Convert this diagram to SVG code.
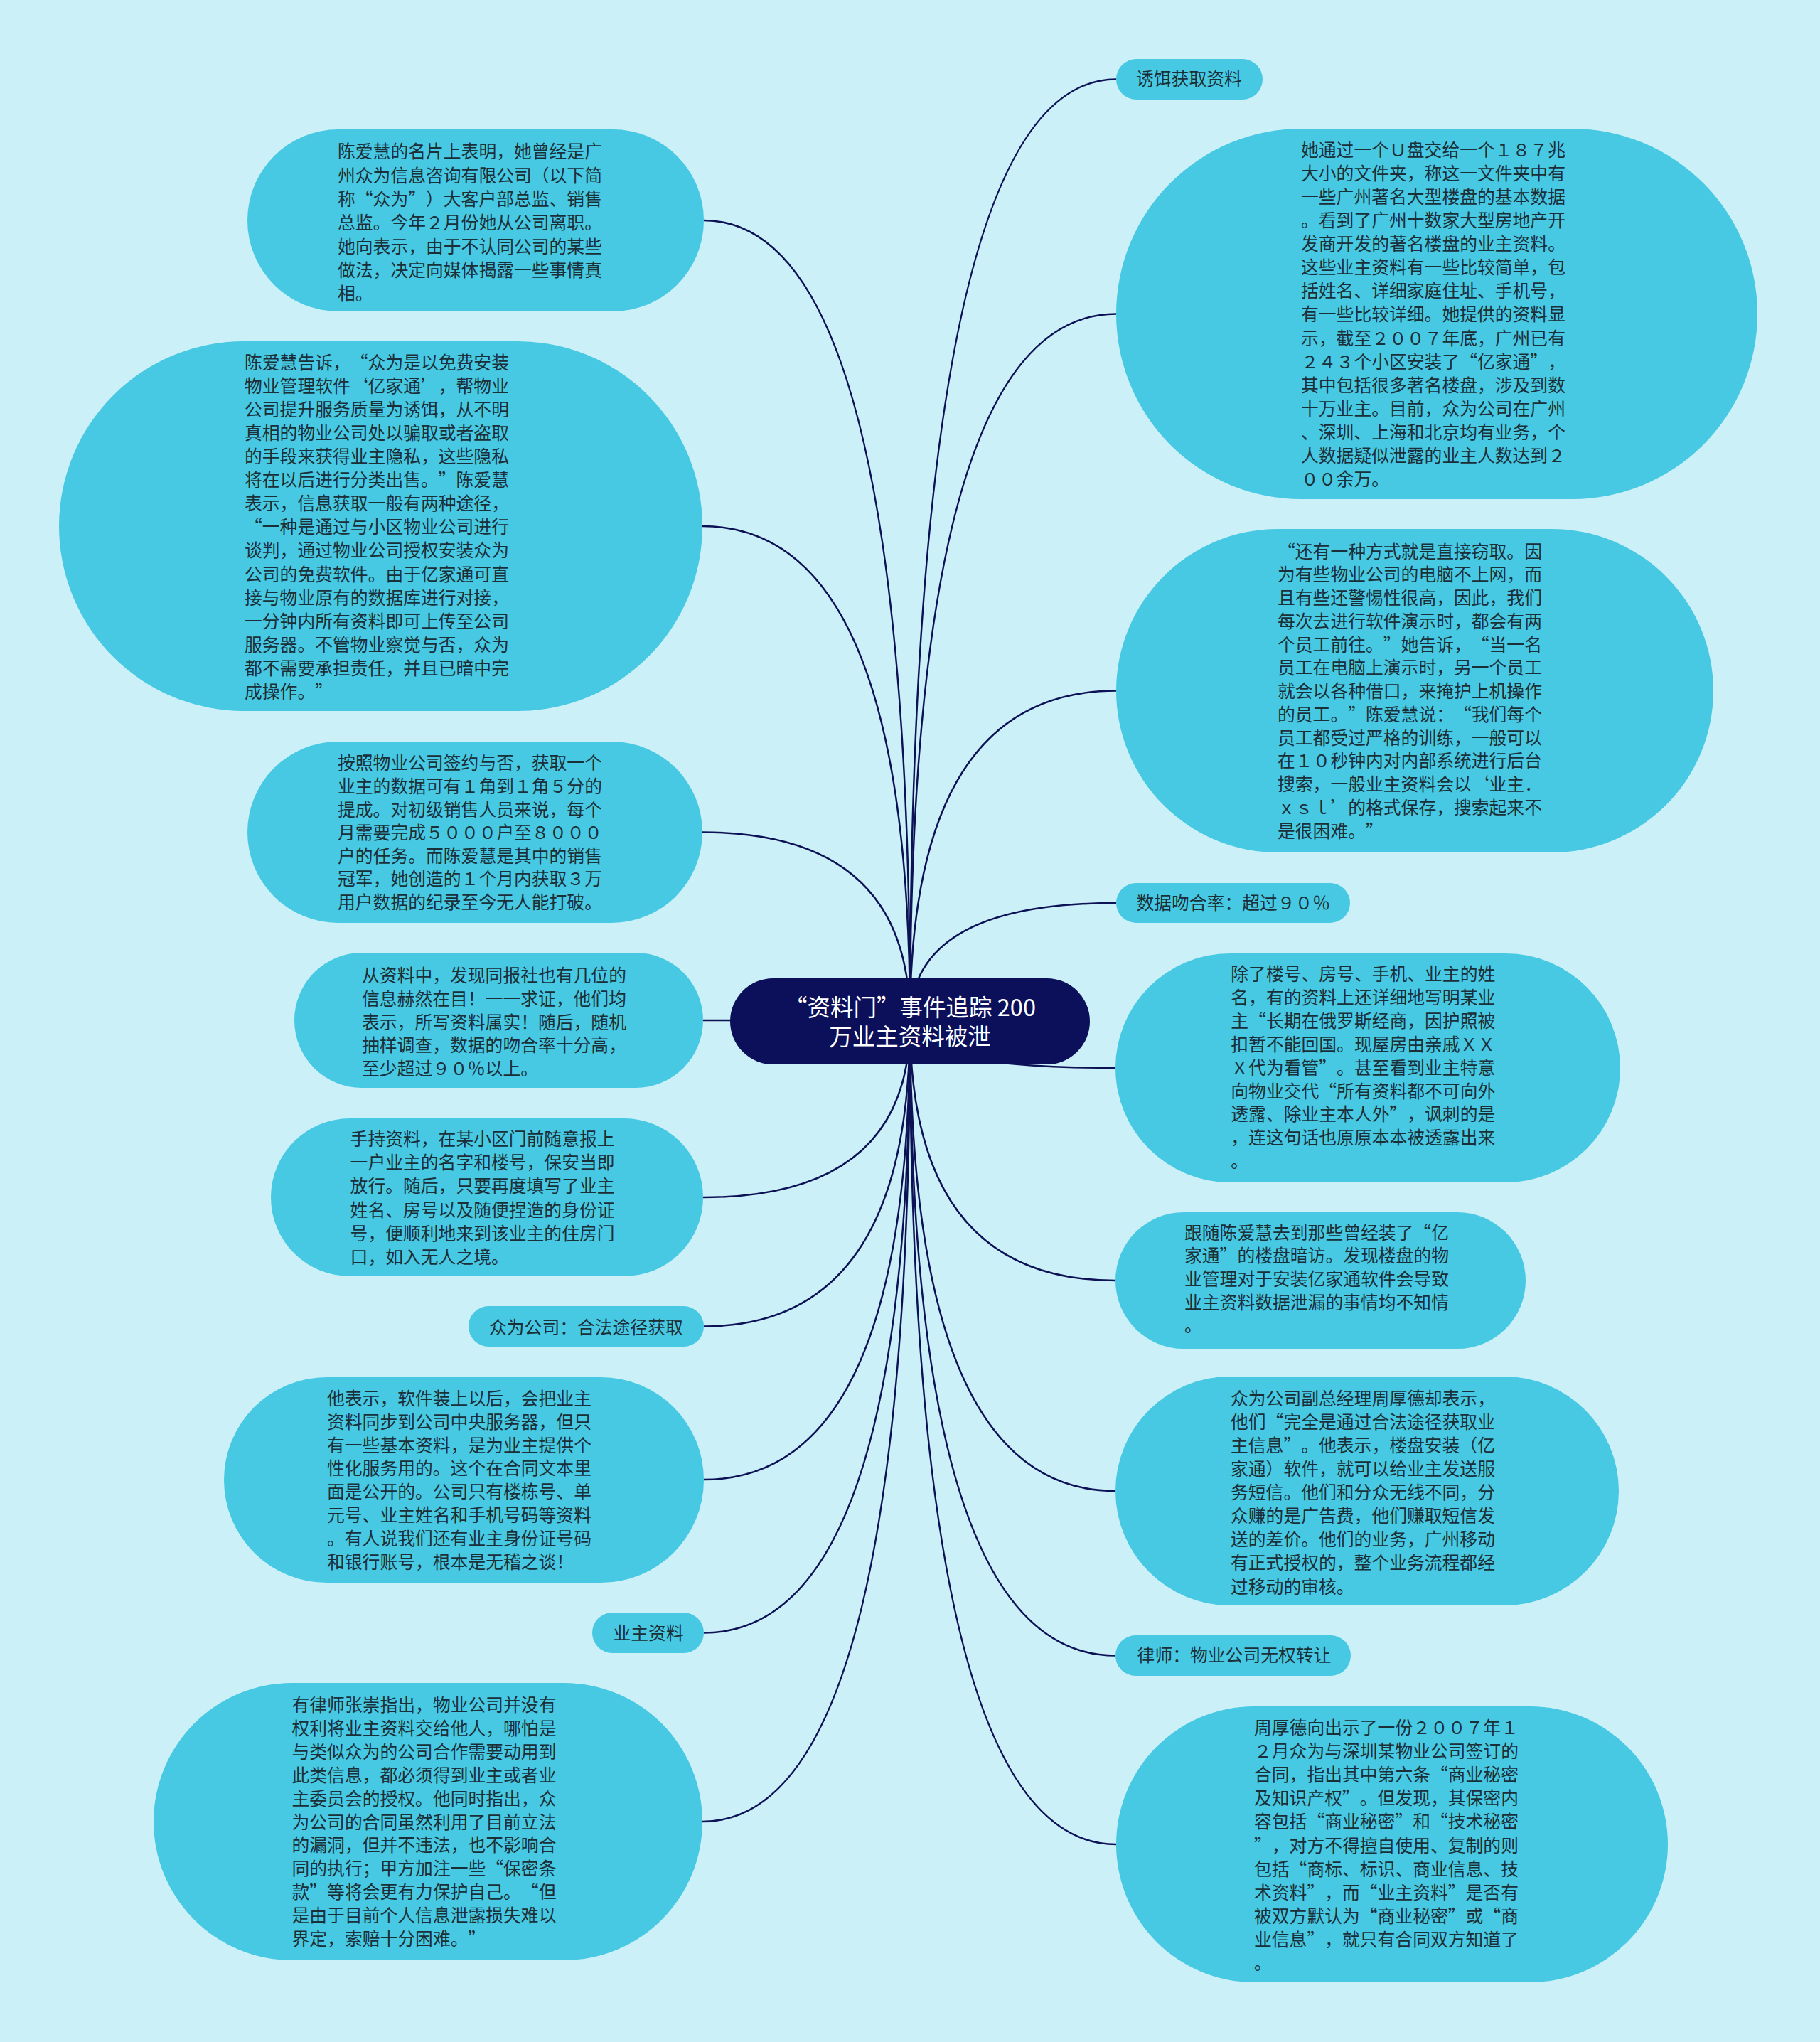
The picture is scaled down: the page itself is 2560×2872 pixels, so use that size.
<svg xmlns="http://www.w3.org/2000/svg" width="2560" height="2872" viewBox="0 0 2560 2872">
<style>
.bg{fill:#ccf0f7}
.nd{fill:#47c9e3}
.root{fill:#0c0f5a}
.t{font-family:"Noto Sans CJK SC","Noto Sans",sans-serif;font-size:24.8px;fill:#1b2f38;text-spacing-trim:space-all}
.rt{font-family:"Noto Sans CJK SC","Noto Sans",sans-serif;font-size:32.5px;fill:#ffffff;text-anchor:middle;text-spacing-trim:space-all}
.ln{fill:none;stroke:#0d1256;stroke-width:2.5}
</style>
<rect class="bg" x="0" y="0" width="2560" height="2872"/>
<g id="connectors">
<path class="ln" d="M1280,1437 Q1280,310 990,310"/>
<path class="ln" d="M1280,1437 Q1280,740 988,740"/>
<path class="ln" d="M1280,1437 Q1280,1170.5 988,1170.5"/>
<path class="ln" d="M1280,1437 Q1280,1435 989,1435"/>
<path class="ln" d="M1280,1437 Q1280,1684 989,1684"/>
<path class="ln" d="M1280,1437 Q1280,1865.5 990,1865.5"/>
<path class="ln" d="M1280,1437 Q1280,2081 990,2081"/>
<path class="ln" d="M1280,1437 Q1280,2296.5 990,2296.5"/>
<path class="ln" d="M1280,1437 Q1280,2562 988,2562"/>
<path class="ln" d="M1280,1437 Q1280,111.5 1570,111.5"/>
<path class="ln" d="M1280,1437 Q1280,441.5 1570,441.5"/>
<path class="ln" d="M1280,1437 Q1280,971.5 1570,971.5"/>
<path class="ln" d="M1280,1437 Q1280,1270 1570,1270"/>
<path class="ln" d="M1280,1437 Q1280,1502 1569,1502"/>
<path class="ln" d="M1280,1437 Q1280,1801 1569,1801"/>
<path class="ln" d="M1280,1437 Q1280,2097 1569,2097"/>
<path class="ln" d="M1280,1437 Q1280,2328.5 1569,2328.5"/>
<path class="ln" d="M1280,1437 Q1280,2594 1570,2594"/>
</g>
<g id="root">
<rect class="root" x="1027" y="1376" width="506" height="121" rx="60.5"/>
<text class="rt" x="1280" y="1428.5">“资料门”事件追踪 200</text>
<text class="rt" x="1280" y="1470">万业主资料被泄</text>
</g>
<g id="n1">
<rect class="nd" x="348" y="182" width="642" height="256" rx="128"/>
<text class="t" y="222.3"><tspan x="475">陈爱慧的名片上表明，她曾经是广</tspan><tspan x="475" dy="33.3">州众为信息咨询有限公司（以下简</tspan><tspan x="475" dy="33.3">称“众为”）大客户部总监、销售</tspan><tspan x="475" dy="33.3">总监。今年２月份她从公司离职。</tspan><tspan x="475" dy="33.3">她向表示，由于不认同公司的某些</tspan><tspan x="475" dy="33.3">做法，决定向媒体揭露一些事情真</tspan><tspan x="475" dy="33.3">相。</tspan></text>
</g>
<g id="n2">
<rect class="nd" x="83" y="480" width="905" height="520" rx="260"/>
<text class="t" y="518.6"><tspan x="344">陈爱慧告诉，“众为是以免费安装</tspan><tspan x="344" dy="33.1">物业管理软件‘亿家通’，帮物业</tspan><tspan x="344" dy="33.1">公司提升服务质量为诱饵，从不明</tspan><tspan x="344" dy="33.1">真相的物业公司处以骗取或者盗取</tspan><tspan x="344" dy="33.1">的手段来获得业主隐私，这些隐私</tspan><tspan x="344" dy="33.1">将在以后进行分类出售。”陈爱慧</tspan><tspan x="344" dy="33.1">表示，信息获取一般有两种途径，</tspan><tspan x="344" dy="33.1">“一种是通过与小区物业公司进行</tspan><tspan x="344" dy="33.1">谈判，通过物业公司授权安装众为</tspan><tspan x="344" dy="33.1">公司的免费软件。由于亿家通可直</tspan><tspan x="344" dy="33.1">接与物业原有的数据库进行对接，</tspan><tspan x="344" dy="33.1">一分钟内所有资料即可上传至公司</tspan><tspan x="344" dy="33.1">服务器。不管物业察觉与否，众为</tspan><tspan x="344" dy="33.1">都不需要承担责任，并且已暗中完</tspan><tspan x="344" dy="33.1">成操作。”</tspan></text>
</g>
<g id="n3">
<rect class="nd" x="348" y="1043" width="640" height="255" rx="127.5"/>
<text class="t" y="1082.3"><tspan x="475">按照物业公司签约与否，获取一个</tspan><tspan x="475" dy="32.6">业主的数据可有１角到１角５分的</tspan><tspan x="475" dy="32.6">提成。对初级销售人员来说，每个</tspan><tspan x="475" dy="32.6">月需要完成５０００户至８０００</tspan><tspan x="475" dy="32.6">户的任务。而陈爱慧是其中的销售</tspan><tspan x="475" dy="32.6">冠军，她创造的１个月内获取３万</tspan><tspan x="475" dy="32.6">用户数据的纪录至今无人能打破。</tspan></text>
</g>
<g id="n4">
<rect class="nd" x="414" y="1340" width="575" height="190" rx="95"/>
<text class="t" y="1380.7"><tspan x="509">从资料中，发现同报社也有几位的</tspan><tspan x="509" dy="32.9">信息赫然在目！一一求证，他们均</tspan><tspan x="509" dy="32.9">表示，所写资料属实！随后，随机</tspan><tspan x="509" dy="32.9">抽样调查，数据的吻合率十分高，</tspan><tspan x="509" dy="32.9">至少超过９０％以上。</tspan></text>
</g>
<g id="n5">
<rect class="nd" x="381" y="1573" width="608" height="222" rx="111"/>
<text class="t" y="1610.7"><tspan x="492.6">手持资料，在某小区门前随意报上</tspan><tspan x="492.6" dy="33.3">一户业主的名字和楼号，保安当即</tspan><tspan x="492.6" dy="33.3">放行。随后，只要再度填写了业主</tspan><tspan x="492.6" dy="33.3">姓名、房号以及随便捏造的身份证</tspan><tspan x="492.6" dy="33.3">号，便顺利地来到该业主的住房门</tspan><tspan x="492.6" dy="33.3">口，如入无人之境。</tspan></text>
</g>
<g id="n6">
<rect class="nd" x="659" y="1837" width="331" height="57" rx="28.5"/>
<text class="t" x="688" y="1875.7">众为公司：合法途径获取</text>
</g>
<g id="n7">
<rect class="nd" x="315" y="1937" width="675" height="289" rx="144.5"/>
<text class="t" y="1975.7"><tspan x="460">他表示，软件装上以后，会把业主</tspan><tspan x="460" dy="32.9">资料同步到公司中央服务器，但只</tspan><tspan x="460" dy="32.9">有一些基本资料，是为业主提供个</tspan><tspan x="460" dy="32.9">性化服务用的。这个在合同文本里</tspan><tspan x="460" dy="32.9">面是公开的。公司只有楼栋号、单</tspan><tspan x="460" dy="32.9">元号、业主姓名和手机号码等资料</tspan><tspan x="460" dy="32.9">。有人说我们还有业主身份证号码</tspan><tspan x="460" dy="32.9">和银行账号，根本是无稽之谈！</tspan></text>
</g>
<g id="n8">
<rect class="nd" x="833" y="2268" width="157" height="57" rx="28.5"/>
<text class="t" x="862.5" y="2305.7">业主资料</text>
</g>
<g id="n9">
<rect class="nd" x="216" y="2367" width="772" height="390" rx="195"/>
<text class="t" y="2407.3"><tspan x="410.5">有律师张崇指出，物业公司并没有</tspan><tspan x="410.5" dy="32.84">权利将业主资料交给他人，哪怕是</tspan><tspan x="410.5" dy="32.84">与类似众为的公司合作需要动用到</tspan><tspan x="410.5" dy="32.84">此类信息，都必须得到业主或者业</tspan><tspan x="410.5" dy="32.84">主委员会的授权。他同时指出，众</tspan><tspan x="410.5" dy="32.84">为公司的合同虽然利用了目前立法</tspan><tspan x="410.5" dy="32.84">的漏洞，但并不违法，也不影响合</tspan><tspan x="410.5" dy="32.84">同的执行；甲方加注一些“保密条</tspan><tspan x="410.5" dy="32.84">款”等将会更有力保护自己。“但</tspan><tspan x="410.5" dy="32.84">是由于目前个人信息泄露损失难以</tspan><tspan x="410.5" dy="32.84">界定，索赔十分困难。”</tspan></text>
</g>
<g id="r0">
<rect class="nd" x="1570" y="83" width="206" height="57" rx="28.5"/>
<text class="t" x="1598" y="119.8">诱饵获取资料</text>
</g>
<g id="r1">
<rect class="nd" x="1570" y="181" width="902" height="521" rx="260.5"/>
<text class="t" y="219.8"><tspan x="1830">她通过一个Ｕ盘交给一个１８７兆</tspan><tspan x="1830" dy="33.09">大小的文件夹，称这一文件夹中有</tspan><tspan x="1830" dy="33.09">一些广州著名大型楼盘的基本数据</tspan><tspan x="1830" dy="33.09">。看到了广州十数家大型房地产开</tspan><tspan x="1830" dy="33.09">发商开发的著名楼盘的业主资料。</tspan><tspan x="1830" dy="33.09">这些业主资料有一些比较简单，包</tspan><tspan x="1830" dy="33.09">括姓名、详细家庭住址、手机号，</tspan><tspan x="1830" dy="33.09">有一些比较详细。她提供的资料显</tspan><tspan x="1830" dy="33.09">示，截至２００７年底，广州已有</tspan><tspan x="1830" dy="33.09">２４３个小区安装了“亿家通”，</tspan><tspan x="1830" dy="33.09">其中包括很多著名楼盘，涉及到数</tspan><tspan x="1830" dy="33.09">十万业主。目前，众为公司在广州</tspan><tspan x="1830" dy="33.09">、深圳、上海和北京均有业务，个</tspan><tspan x="1830" dy="33.09">人数据疑似泄露的业主人数达到２</tspan><tspan x="1830" dy="33.09">００余万。</tspan></text>
</g>
<g id="r2">
<rect class="nd" x="1570" y="744" width="840" height="455" rx="227.5"/>
<text class="t" y="784.7"><tspan x="1797">“还有一种方式就是直接窃取。因</tspan><tspan x="1797" dy="32.74">为有些物业公司的电脑不上网，而</tspan><tspan x="1797" dy="32.74">且有些还警惕性很高，因此，我们</tspan><tspan x="1797" dy="32.74">每次去进行软件演示时，都会有两</tspan><tspan x="1797" dy="32.74">个员工前往。”她告诉，“当一名</tspan><tspan x="1797" dy="32.74">员工在电脑上演示时，另一个员工</tspan><tspan x="1797" dy="32.74">就会以各种借口，来掩护上机操作</tspan><tspan x="1797" dy="32.74">的员工。”陈爱慧说：“我们每个</tspan><tspan x="1797" dy="32.74">员工都受过严格的训练，一般可以</tspan><tspan x="1797" dy="32.74">在１０秒钟内对内部系统进行后台</tspan><tspan x="1797" dy="32.74">搜索，一般业主资料会以‘业主．</tspan><tspan x="1797" dy="32.74">ｘｓｌ’的格式保存，搜索起来不</tspan><tspan x="1797" dy="32.74">是很困难。”</tspan></text>
</g>
<g id="r3">
<rect class="nd" x="1570" y="1242" width="329" height="56" rx="28"/>
<text class="t" x="1598.4" y="1279">数据吻合率：超过９０％</text>
</g>
<g id="r4">
<rect class="nd" x="1569" y="1341" width="710" height="322" rx="161"/>
<text class="t" y="1379"><tspan x="1731.3">除了楼号、房号、手机、业主的姓</tspan><tspan x="1731.3" dy="32.9">名，有的资料上还详细地写明某业</tspan><tspan x="1731.3" dy="32.9">主“长期在俄罗斯经商，因护照被</tspan><tspan x="1731.3" dy="32.9">扣暂不能回国。现屋房由亲戚ＸＸ</tspan><tspan x="1731.3" dy="32.9">Ｘ代为看管”。甚至看到业主特意</tspan><tspan x="1731.3" dy="32.9">向物业交代“所有资料都不可向外</tspan><tspan x="1731.3" dy="32.9">透露、除业主本人外”，讽刺的是</tspan><tspan x="1731.3" dy="32.9">，连这句话也原原本本被透露出来</tspan><tspan x="1731.3" dy="32.9">。</tspan></text>
</g>
<g id="r5">
<rect class="nd" x="1569" y="1705" width="577" height="192" rx="96"/>
<text class="t" y="1742.6"><tspan x="1666">跟随陈爱慧去到那些曾经装了“亿</tspan><tspan x="1666" dy="32.7">家通”的楼盘暗访。发现楼盘的物</tspan><tspan x="1666" dy="32.7">业管理对于安装亿家通软件会导致</tspan><tspan x="1666" dy="32.7">业主资料数据泄漏的事情均不知情</tspan><tspan x="1666" dy="32.7">。</tspan></text>
</g>
<g id="r6">
<rect class="nd" x="1569" y="1936" width="708" height="322" rx="161"/>
<text class="t" y="1975.7"><tspan x="1731">众为公司副总经理周厚德却表示，</tspan><tspan x="1731" dy="33.1">他们“完全是通过合法途径获取业</tspan><tspan x="1731" dy="33.1">主信息”。他表示，楼盘安装（亿</tspan><tspan x="1731" dy="33.1">家通）软件，就可以给业主发送服</tspan><tspan x="1731" dy="33.1">务短信。他们和分众无线不同，分</tspan><tspan x="1731" dy="33.1">众赚的是广告费，他们赚取短信发</tspan><tspan x="1731" dy="33.1">送的差价。他们的业务，广州移动</tspan><tspan x="1731" dy="33.1">有正式授权的，整个业务流程都经</tspan><tspan x="1731" dy="33.1">过移动的审核。</tspan></text>
</g>
<g id="r7">
<rect class="nd" x="1569" y="2300" width="331" height="57" rx="28.5"/>
<text class="t" x="1599.6" y="2337.3">律师：物业公司无权转让</text>
</g>
<g id="r8">
<rect class="nd" x="1570" y="2400" width="776" height="388" rx="194"/>
<text class="t" y="2439"><tspan x="1764">周厚德向出示了一份２００７年１</tspan><tspan x="1764" dy="33.1">２月众为与深圳某物业公司签订的</tspan><tspan x="1764" dy="33.1">合同，指出其中第六条“商业秘密</tspan><tspan x="1764" dy="33.1">及知识产权”。但发现，其保密内</tspan><tspan x="1764" dy="33.1">容包括“商业秘密”和“技术秘密</tspan><tspan x="1764" dy="33.1">”，对方不得擅自使用、复制的则</tspan><tspan x="1764" dy="33.1">包括“商标、标识、商业信息、技</tspan><tspan x="1764" dy="33.1">术资料”，而“业主资料”是否有</tspan><tspan x="1764" dy="33.1">被双方默认为“商业秘密”或“商</tspan><tspan x="1764" dy="33.1">业信息”，就只有合同双方知道了</tspan><tspan x="1764" dy="33.1">。</tspan></text>
</g>
</svg>
